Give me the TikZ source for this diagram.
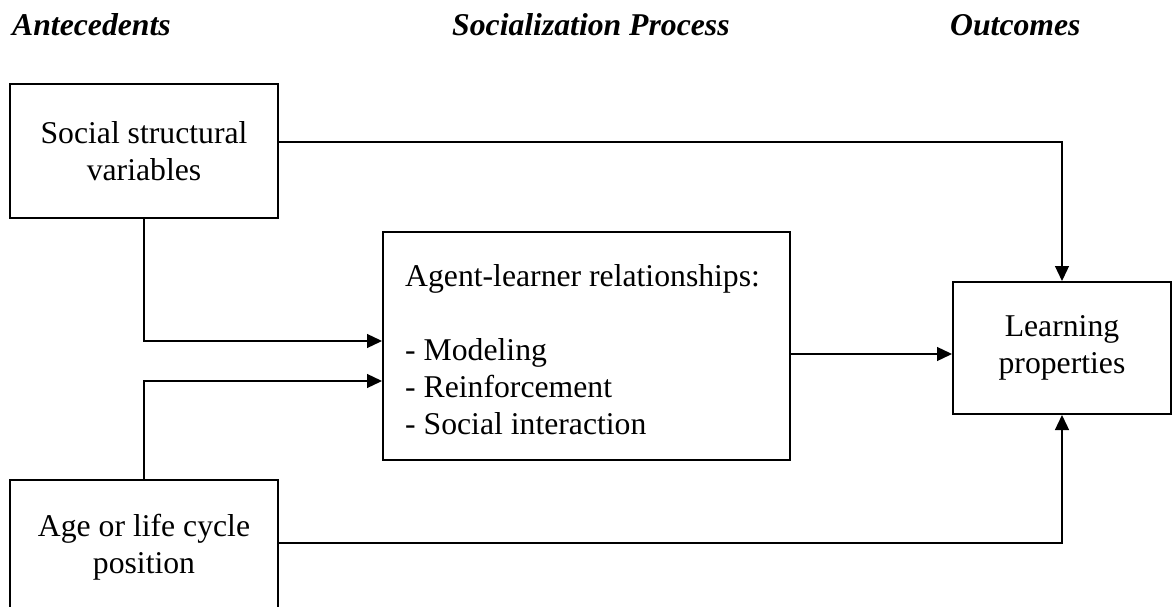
\documentclass[tikz,border=0pt]{standalone}
\usepackage{fontspec}
\setmainfont{Liberation Serif}
\usetikzlibrary{arrows.meta}
\begin{document}
\begin{tikzpicture}[x=1pt,y=-1pt,
  box/.style={draw, line width=2pt, rectangle, align=center, inner sep=0pt,
    font=\fontsize{31.7}{37}\selectfont},
  txt/.style={inner sep=0pt, font=\fontsize{31.7}{37}\selectfont},
  head/.style={anchor=base west, inner sep=0pt,
    font=\fontsize{31.7}{37}\selectfont\bfseries\itshape},
  arr/.style={line width=1.3pt, -{Triangle[length=15pt,width=14pt]}}]
\clip (0,0) rectangle (1173,607);
\fill[white] (0,0) rectangle (1173,607);
\node[head] (h1) at (12,36) {Antecedents};
\node[head] (h2) at (452,36) {Socialization Process};
\node[head] (h3) at (950,36) {Outcomes};
\node[box, minimum width=268pt, minimum height=134pt] (soc) at (144,151) {Social structural\\variables};
\node[box, minimum width=268pt, minimum height=134pt] (age) at (144,547) {Age or life cycle\\position};
\node[box, minimum width=407pt, minimum height=228pt] (agent) at (586.5,346) {};
\node[txt, anchor=base west, align=left] (agenttext) at (405,434)
  {Agent-learner relationships:\\[37pt]- Modeling\\- Reinforcement\\- Social interaction};
\node[box, minimum width=218pt, minimum height=132pt] (learn) at (1062,348) {Learning\\properties};
\coordinate (L) at ([yshift=-6pt]learn.west);
\draw[arr] ([yshift=9pt]soc.east) -| (learn.north);
\draw[arr] (soc.south) |- ([yshift=5pt]agent.west);
\draw[arr] (age.north) |- ([yshift=-35pt]agent.west);
\draw[arr] (agent.east |- L) -- (L);
\draw[arr] ([yshift=4pt]age.east) -| (learn.south);
\end{tikzpicture}
\end{document}
